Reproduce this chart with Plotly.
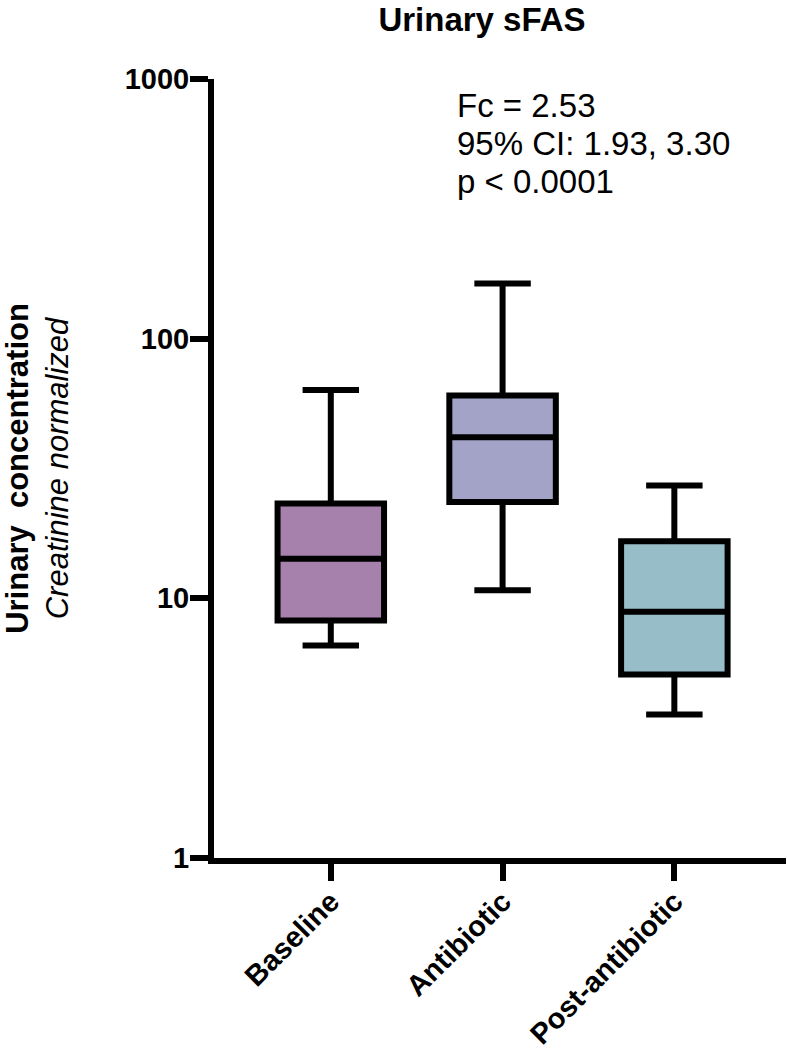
import plotly.graph_objects as go

categories = ["Baseline", "Antibiotic", "Post-antibiotic"]
lower_whisker = [6.58, 10.75, 3.57]
q1_values = [8.21, 23.5, 5.09]
median_values = [14.2, 41.7, 8.87]
q3_values = [23.2, 60.4, 16.6]
upper_whisker = [63.4, 163.0, 27.2]
fill_colors = ["#A681AC", "#A3A3C8", "#97BDC9"]
y_tick_values = [1, 10, 100, 1000]
y_tick_labels = ["1", "10", "100", "1000"]
stat_lines = ["Fc = 2.53", "95% CI: 1.93, 3.30", "p < 0.0001"]

FONT = "Arial, 'Liberation Sans', sans-serif"
L, R, T, B = 214, 1, 79, 192
W, H = 787, 1050
PW, PH = W - L - R, H - T - B

fig = go.Figure()
for i, cat in enumerate(categories):
    fig.add_trace(go.Box(
        x=[i],
        q1=[q1_values[i]],
        median=[median_values[i]],
        q3=[q3_values[i]],
        lowerfence=[lower_whisker[i]],
        upperfence=[upper_whisker[i]],
        name=cat,
        width=0.62,
        whiskerwidth=0.53,
        fillcolor=fill_colors[i],
        line=dict(color="black", width=6),
        boxpoints=False,
        showlegend=False,
        hoverinfo="skip",
    ))

fig.update_layout(
    width=W,
    height=H,
    margin=dict(l=L, r=R, t=T, b=B),
    plot_bgcolor="white",
    paper_bgcolor="white",
    font=dict(family=FONT, color="black"),
    title=dict(
        text="<b>Urinary sFAS</b>",
        font=dict(size=33, family=FONT, color="black"),
        x=482 / W, xref="container", xanchor="center",
        y=1 - 19 / H, yref="container", yanchor="middle",
    ),
    xaxis=dict(
        automargin=False,
        range=[-0.68, 2.65],
        tickvals=list(range(len(categories))),
        ticktext=[f"<b>{c}</b>" for c in categories],
        tickangle=-45,
        ticks="outside",
        ticklen=17,
        tickwidth=6,
        tickcolor="black",
        ticklabelstandoff=-8,
        showline=True,
        linewidth=6,
        linecolor="black",
        showgrid=False,
        zeroline=False,
        tickfont=dict(size=29, family=FONT, color="black"),
    ),
    yaxis=dict(
        type="log",
        range=[0, 3],
        tickvals=y_tick_values,
        ticktext=[f"<b>{t}</b>" for t in y_tick_labels],
        ticks="outside",
        ticklen=18,
        tickwidth=6,
        tickcolor="black",
        ticklabelstandoff=-5,
        showline=True,
        linewidth=6,
        linecolor="black",
        showgrid=False,
        zeroline=False,
        tickfont=dict(size=29, family=FONT, color="black"),
        title=dict(
            text="<b>Urinary\u00a0\u00a0concentration</b><br><i>Creatinine normalized</i>",
            font=dict(size=31, family=FONT, color="black"),
            standoff=53,
        ),
    ),
)

line_centers = [106, 143, 181]
for txt, yc in zip(stat_lines, line_centers):
    fig.add_annotation(
        text=txt,
        xref="paper", yref="paper",
        x=(455 - L) / PW, y=(H - B - yc) / PH,
        xanchor="left", yanchor="middle",
        align="left",
        showarrow=False,
        font=dict(size=33, family=FONT, color="black"),
    )

fig.write_html(
    "out.html",
    config={"displayModeBar": False},
    post_script="document.body.style.margin='0px';",
)
